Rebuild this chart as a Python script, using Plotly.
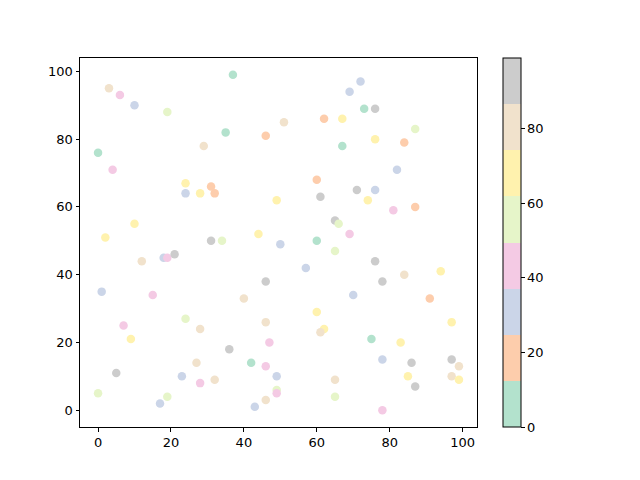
import plotly.graph_objects as go

# (x, y, colour value)
x_vals = [3, 6, 10, 19, 37, 51, 62, 67, 72, 69, 73, 76, 35, 46, 29, 0, 67, 76, 84, 87,
          4, 82, 24, 31, 32, 24, 28, 60, 71, 76, 74, 49, 61, 87, 81, 10, 65, 66, 2, 31,
          34, 44, 60, 50, 69, 65, 12, 18, 19, 21, 76, 57, 94, 84, 46, 78, 1, 15, 40, 70,
          91, 60, 24, 46, 97, 7, 28, 62, 61, 9, 75, 47, 83, 36, 78, 97, 27, 42, 46, 86,
          99, 5, 23, 49, 85, 97, 32, 28, 65, 99, 87, 49, 49, 0, 19, 65, 46, 17, 43, 78]
y_vals = [95, 93, 90, 88, 99, 85, 86, 86, 97, 94, 89, 89, 82, 81, 78, 76, 78, 80, 79, 83,
          71, 71, 67, 66, 64, 64, 64, 68, 65, 65, 62, 62, 63, 60, 59, 55, 56, 55, 51, 50,
          50, 52, 50, 49, 52, 47, 44, 45, 45, 46, 44, 42, 41, 40, 38, 38, 35, 34, 33, 34,
          33, 29, 27, 26, 26, 25, 24, 24, 23, 21, 21, 20, 20, 18, 15, 15, 14, 14, 13, 14,
          13, 11, 10, 10, 10, 10, 9, 8, 9, 9, 7, 6, 5, 5, 4, 4, 3, 2, 1, 0]
c_vals = [80, 43, 31, 55, 6, 80, 18, 68, 31, 31, 6, 93, 6, 18, 80, 6, 6, 68, 18, 55,
          43, 31, 68, 18, 18, 31, 68, 18, 93, 31, 68, 68, 93, 18, 43, 68, 93, 55, 68, 93,
          55, 68, 6, 31, 43, 55, 80, 31, 43, 93, 93, 31, 68, 80, 93, 93, 31, 43, 80, 31,
          18, 68, 55, 80, 68, 43, 80, 68, 80, 68, 6, 43, 68, 93, 31, 93, 80, 6, 43, 93,
          80, 93, 31, 31, 68, 80, 80, 43, 80, 68, 93, 55, 43, 55, 55, 55, 80, 31, 31, 43]

pastel2 = ["#b3e2cd", "#fdcdac", "#cbd5e8", "#f4cae4",
           "#e6f5c9", "#fff2ae", "#f1e2cc", "#cccccc"]
colorscale = []
for i, col in enumerate(pastel2):
    colorscale.append([i / 8, col])
    colorscale.append([(i + 1) / 8, col])

fig = go.Figure(go.Scatter(
    x=x_vals, y=y_vals, mode="markers",
    marker=dict(
        size=8.5, color=c_vals, colorscale=colorscale, cmin=0, cmax=99,
        line=dict(width=0),
        showscale=True,
        colorbar=dict(
            x=1.065, xanchor="left", y=0.5, yanchor="middle",
            len=1, lenmode="fraction", thickness=18, thicknessmode="pixels",
            outlinewidth=1, outlinecolor="black",
            tickvals=[0, 20, 40, 60, 80], ticks="outside", ticklen=3.5,
            tickcolor="black", tickfont=dict(size=13, color="black"),
            xpad=0, ypad=0,
        ),
    ),
    hoverinfo="skip",
))

axis_style = dict(
    range=[-4.95, 103.95], tickvals=[0, 20, 40, 60, 80, 100],
    showgrid=False, zeroline=False, showline=True, mirror=True,
    linecolor="black", linewidth=1, ticks="outside", ticklen=3.5,
    tickcolor="black", tickfont=dict(size=13, color="black"),
)

fig.update_layout(
    width=632, height=472,
    margin=dict(l=72, r=163, t=50, b=53),
    paper_bgcolor="white", plot_bgcolor="white",
    font=dict(family="DejaVu Sans", size=13, color="black"),
    xaxis=axis_style, yaxis=axis_style,
    showlegend=False,
)

fig.write_html("out.html")
